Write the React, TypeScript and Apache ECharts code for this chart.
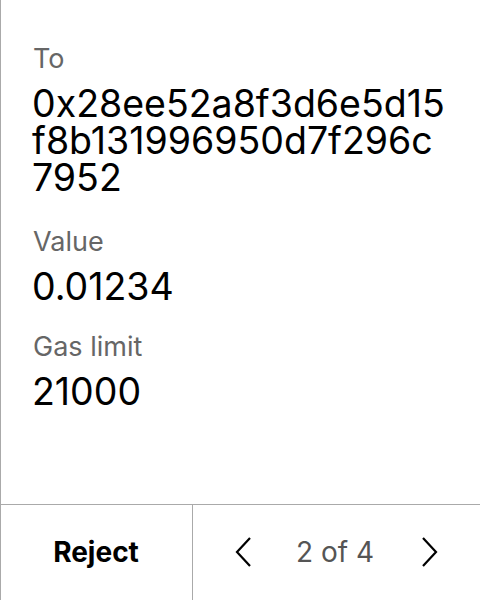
import { useEffect, useRef } from 'react'
import * as echarts from 'echarts'

const fieldLabels = ['To', 'Value', 'Gas limit']
const fieldValues = [
  ['0x28ee52a8f3d6e5d15', 'f8b131996950d7f296c', '7952'],
  ['0.01234'],
  ['21000'],
]
const labelY = [58, 241, 346]
const rejectText = 'Reject'
const pageText = '2 of 4'

const FONT = 'Inter, "Noto Sans", sans-serif'

export default function App() {
  const chartRef = useRef<HTMLDivElement>(null)

  useEffect(() => {
    if (!chartRef.current) return
    const chart = echarts.init(chartRef.current, undefined, { renderer: 'svg' })

    const elements: any[] = []
    fieldLabels.forEach((label, i) => {
      elements.push({
        type: 'text',
        x: 33,
        y: labelY[i],
        style: { text: label, font: `400 27px ${FONT}`, fill: '#666', verticalAlign: 'middle' },
      })
      fieldValues[i].forEach((line, j) => {
        elements.push({
          type: 'text',
          x: 32,
          y: labelY[i] + 45 + j * 37,
          style: { text: line, font: `400 37.5px ${FONT}`, fill: '#000', verticalAlign: 'middle' },
        })
      })
    })

    // frame lines
    elements.push(
      { type: 'line', shape: { x1: 0.5, y1: 0, x2: 0.5, y2: 600 }, style: { stroke: '#aaa', lineWidth: 1 } },
      { type: 'line', shape: { x1: 0, y1: 504.5, x2: 480, y2: 504.5 }, style: { stroke: '#aaa', lineWidth: 1 } },
      { type: 'line', shape: { x1: 192.5, y1: 505, x2: 192.5, y2: 600 }, style: { stroke: '#aaa', lineWidth: 1 } },
    )

    // footer
    elements.push(
      {
        type: 'text',
        x: 96,
        y: 552,
        style: { text: rejectText, font: `700 28px ${FONT}`, fill: '#000', align: 'center', verticalAlign: 'middle' },
      },
      {
        type: 'text',
        x: 335,
        y: 552,
        style: { text: pageText, font: `400 28px ${FONT}`, fill: '#555', align: 'center', verticalAlign: 'middle' },
      },
      {
        type: 'polyline',
        shape: { points: [[250, 538], [237, 552], [250, 566]] },
        style: { stroke: '#000', lineWidth: 2.2, fill: 'none' },
      },
      {
        type: 'polyline',
        shape: { points: [[423, 538], [436, 552], [423, 566]] },
        style: { stroke: '#000', lineWidth: 2.2, fill: 'none' },
      },
    )

    chart.setOption({
      animation: false,
      backgroundColor: '#fff',
      graphic: { elements },
    })

    return () => {
      chart.dispose()
    }
  }, [])

  return (
    <div
      ref={chartRef}
      style={{ position: 'absolute', left: 0, top: 0, width: '480px', height: '600px' }}
    />
  )
}
